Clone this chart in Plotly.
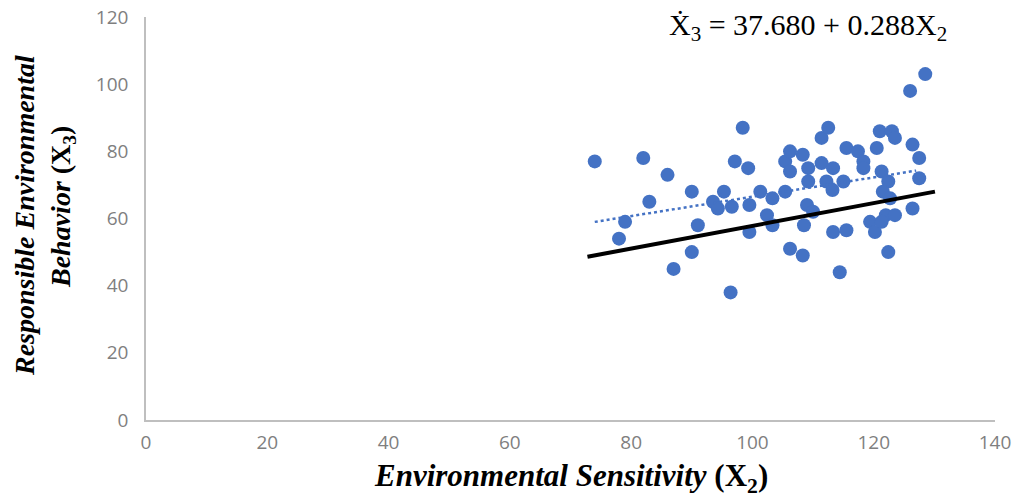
import plotly.graph_objects as go

# Observed data (Environmental Sensitivity X2, Responsible Environmental Behavior X3)
x2_values = [74, 82, 86, 83, 79, 78, 87, 90, 90, 91, 93.5, 94.3, 95.3, 96.6, 98.4,
             97.1, 99.3, 99.5, 99.5, 96.4, 101.3, 102.4, 103.3, 103.3, 105.4, 105.4,
             106.2, 106.2, 106.2, 108.3, 108.5, 108.3, 109.2, 109.2, 109, 110, 111.4,
             112.5, 111.4, 112.2, 113.2, 113.3, 115, 113.3, 115.5, 114.4, 115.5, 117.4,
             118.3, 118.3, 119.4, 120.2, 120.5, 121, 123, 123.5, 121.3, 122.4, 121.5,
             122.7, 122, 123.5, 121.3, 122.4, 126.4, 127.5, 127.5, 126.4, 126, 128.5]
x3_values = [77, 78, 73, 65, 59, 54, 45, 68, 50, 58, 65, 63, 68, 63.5, 87,
             77, 75, 64, 56, 38, 68, 61, 58, 66, 68, 77,
             80, 74, 51, 49, 58, 79, 75, 71, 64, 62, 84,
             87, 76.5, 71, 68.5, 75, 71, 56, 56.5, 44, 81, 80,
             77, 75, 59, 56, 81, 86, 86, 84, 74, 71, 68,
             66, 61, 61, 59, 50, 82, 78, 72, 63, 98, 103]

# Regression (dotted trendline) coefficients and its x extent
intercept = 37.680
slope = 0.288
trend_x = [74, 127]
trend_y = [intercept + slope * v for v in trend_x]

# Black reference line endpoints (as drawn)
black_x = [72.8, 130.1]
black_y = [48.6, 68.0]

x_ticks = [0, 20, 40, 60, 80, 100, 120, 140]
y_ticks = [0, 20, 40, 60, 80, 100, 120]

blue = "#4472C4"
serif = "Liberation Serif, Times New Roman, serif"

W, H = 1020, 500
L, R, T, B = 146, 995, 17, 420  # target plot area in page pixels
pw, ph = R - L, B - T


def px(xp):
    return (xp - L) / pw


def py(yp):
    return (B - yp) / ph


fig = go.Figure()
fig.add_trace(go.Scatter(x=x2_values, y=x3_values, mode="markers",
                         marker=dict(color=blue, size=14), showlegend=False))
fig.add_trace(go.Scatter(x=trend_x, y=trend_y, mode="lines",
                         line=dict(color=blue, width=2.5, dash="dot"), showlegend=False))
fig.add_trace(go.Scatter(x=black_x, y=black_y, mode="lines",
                         line=dict(color="black", width=4), showlegend=False))

axis_common = dict(showgrid=False, zeroline=False, showline=True,
                   linecolor="#BFBFBF", linewidth=1.5, ticks="",
                   tickfont=dict(family="Open Sans, sans-serif", size=19, color="#7F7F7F"))

fig.update_layout(
    width=W, height=H,
    margin=dict(l=L, r=W - R, t=T, b=H - B, autoexpand=False),
    plot_bgcolor="white", paper_bgcolor="white",
    xaxis=dict(range=[0, 140], tickvals=x_ticks, automargin=False, ticklabelstandoff=4,
               **axis_common),
    yaxis=dict(range=[0, 120], tickvals=y_ticks, ticklabelstandoff=12, automargin=False,
               **axis_common),
)

fig.add_annotation(xref="paper", yref="paper", x=px(808), y=py(27),
                   text="Ẋ<sub>3</sub> = 37.680 + 0.288X<sub>2</sub>", showarrow=False,
                   font=dict(family=serif, size=30, color="black"),
                   xanchor="center", yanchor="middle")
fig.add_annotation(xref="paper", yref="paper", x=px(571), y=py(478),
                   text="<b><i>Environmental Sensitivity</i> (X<sub>2</sub>)</b>", showarrow=False,
                   font=dict(family=serif, size=31, color="black"),
                   xanchor="center", yanchor="middle")
fig.add_annotation(xref="paper", yref="paper", x=px(24), y=py(216),
                   text="<b><i>Responsible Environmental</i></b>", showarrow=False,
                   textangle=-90,
                   font=dict(family=serif, size=28, color="black"),
                   xanchor="center", yanchor="middle")
fig.add_annotation(xref="paper", yref="paper", x=px(62), y=py(207),
                   text="<b><i>Behavior</i> (X<sub>3</sub>)</b>", showarrow=False,
                   textangle=-90,
                   font=dict(family=serif, size=28, color="black"),
                   xanchor="center", yanchor="middle")

fig.write_html("out.html", config={"displayModeBar": False},
               post_script="document.body.style.margin='0px';")
